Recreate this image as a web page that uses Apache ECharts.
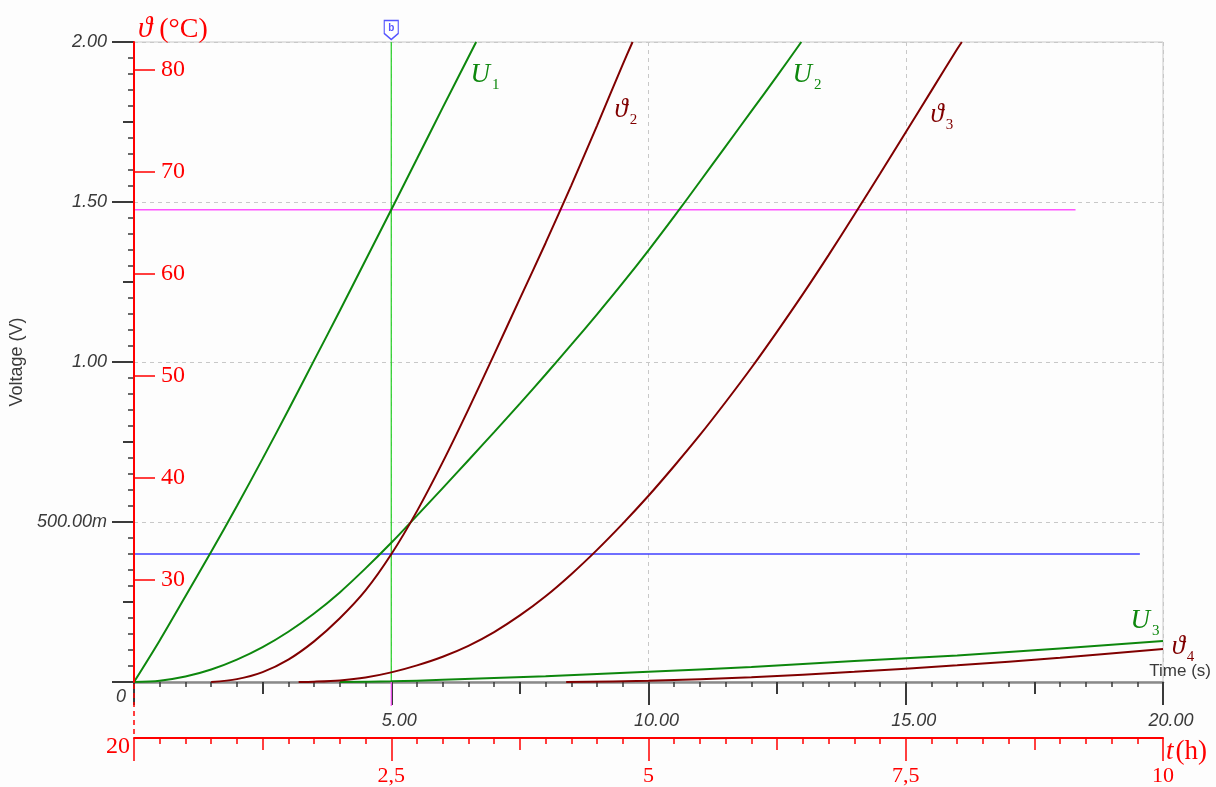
<!DOCTYPE html>
<html>
<head>
<meta charset="utf-8">
<script src="https://cdn.jsdelivr.net/npm/echarts@6/dist/echarts.min.js"></script>
<style>
  html, body { margin: 0; padding: 0; background: #fdfdfd; }
  #chart { width: 1216px; height: 787px; }
</style>
</head>
<body>
<div id="chart"></div>
<script>
// Measured curves: [time (s), voltage (V)]
const u1Points = [[0,0],[0.5,0.13],[1,0.268],[1.5,0.407],[2,0.55],[2.5,0.698],[3,0.85],[3.5,1.005],[4,1.16],[4.5,1.318],[5,1.476],[5.5,1.635],[6,1.795],[6.65,2.0]];
const u2Points = [[0,0],[0.5,0.004],[1,0.017],[1.5,0.039],[2,0.07],[2.5,0.109],[3,0.157],[3.5,0.214],[4,0.28],[4.5,0.355],[5,0.435],[5.5,0.52],[6,0.606],[6.5,0.693],[7,0.781],[7.5,0.87],[8,0.961],[8.5,1.054],[9,1.149],[9.5,1.247],[10,1.349],[10.5,1.455],[11,1.564],[11.5,1.674],[12,1.784],[12.5,1.894],[12.97,2.0]];
const u3Points = [[4,0],[5,0.002],[6,0.007],[8,0.018],[10,0.032],[12,0.047],[14,0.066],[16,0.083],[18,0.105],[20,0.128]];
const theta2Points = [[1.5,0],[2,0.009],[2.5,0.031],[3,0.07],[3.5,0.127],[4,0.199],[4.5,0.286],[5,0.399],[5.5,0.534],[6,0.687],[6.5,0.852],[7,1.024],[7.5,1.198],[8,1.372],[8.5,1.552],[9,1.739],[9.5,1.93],[9.69,2.0]];
const theta3Points = [[3.2,0],[3.5,0.001],[4,0.005],[4.5,0.014],[5,0.03],[5.5,0.052],[6,0.079],[6.5,0.113],[7,0.156],[7.5,0.208],[8,0.268],[8.5,0.337],[9,0.413],[9.5,0.495],[10,0.582],[10.5,0.675],[11,0.772],[11.5,0.875],[12,0.982],[12.5,1.095],[13,1.212],[13.5,1.334],[14,1.46],[14.5,1.588],[15,1.718],[15.5,1.848],[16,1.978],[16.09,2.0]];
const theta4Points = [[8.4,0],[10,0.004],[12,0.015],[14,0.032],[16,0.052],[18,0.076],[20,0.103]];

// Cursors
const cursorTime = 5.0;
const cursorA = [[-0.47,1.476],[18.3,1.476]];
const cursorB = [[-0.47,0.4],[19.55,0.4]];

// Axis scales
const timeMax = 20, hoursMax = 10, voltMax = 2;
const tempMin = 20, tempMax = 82.74;
const tempTicks = [30, 40, 50, 60, 70, 80];
const voltLabels = { 0: '', 0.5: '500.00m', 1: '1.00', 1.5: '1.50', 2: '2.00' };

// Where each curve name sits (axis units) and its pixel nudge
const curveLabelAt = { U1: [6.82, 1.891], U2: [13.08, 1.891], T2: [9.56, 1.782], T3: [15.7, 1.766], U3: [19.65, 0.184], T4: [20, 0.103] };
const curveLabelNudge = { T4: [20, 0] };

const GREEN = '#0d870d', DARKRED = '#800000', RED = '#ff0000', AXIS = '#3a3a3a';
const SANS = '"Liberation Sans", Arial, sans-serif';
const SERIF = '"Liberation Serif", "DejaVu Serif", "Times New Roman", serif';

function nameRich(color) {
  return {
    m: { fontFamily: SERIF, fontStyle: 'italic', fontSize: 27, color: color, verticalAlign: 'top', lineHeight: 31 },
    s: { fontFamily: SERIF, fontSize: 15, color: color, verticalAlign: 'bottom', lineHeight: 31, padding: [0, 0, 0, 2] }
  };
}
function curveName(key, sym, sub, color) {
  return {
    silent: true,
    symbol: 'circle', symbolSize: 0,
    data: [{ coord: curveLabelAt[key] }],
    label: {
      show: true, position: 'inside', offset: curveLabelNudge[key] || [0, 0],
      formatter: '{m|' + sym + '}{s|' + sub + '}', rich: nameRich(color)
    }
  };
}
function curve(name, data, color, key, sym, sub) {
  return {
    name: name, type: 'line', data: data, showSymbol: false, smooth: 0.3,
    clip: false, z: 3,
    lineStyle: { color: color, width: 2 }, itemStyle: { color: color },
    markPoint: curveName(key, sym, sub, color)
  };
}

const chart = echarts.init(document.getElementById('chart'), null, { renderer: 'canvas' });

const option = {
  animation: false,
  backgroundColor: '#fdfdfd',
  grid: { left: 134, top: 42, right: 53, bottom: 104, show: true, borderColor: '#c8c8c8', borderWidth: 1, backgroundColor: 'transparent' },
  xAxis: [
    {
      type: 'value', min: 0, max: timeMax, interval: 5, position: 'bottom', z: 0,
      axisLine: { show: true, onZero: false, lineStyle: { color: '#8a8a8a', width: 2.5 } },
      axisTick: { show: true, length: 23, lineStyle: { color: AXIS, width: 2 } },
      minorTick: { show: true, splitNumber: 10, length: 5, lineStyle: { color: AXIS, width: 1.5 } },
      splitLine: { show: true, lineStyle: { color: '#c8c8c8', type: [4, 4], width: 1 } },
      axisLabel: {
        margin: 30, verticalAlign: 'top',
        formatter: v => v === 0 ? '' : '{a|' + v.toFixed(2) + '}',
        rich: { a: { fontFamily: SANS, fontStyle: 'italic', fontSize: 18, color: AXIS, padding: [0, 0, 0, 16] } }
      },
      name: 'Time (s)', nameLocation: 'end', nameGap: 48,
      nameTextStyle: { align: 'right', verticalAlign: 'bottom', fontFamily: SANS, fontSize: 17, color: AXIS, padding: [0, 0, 2, 0] }
    },
    {
      type: 'value', min: 0, max: timeMax, interval: 2.5, position: 'bottom', offset: 0, z: 0,
      axisLine: { show: false, onZero: false },
      axisTick: { show: true, length: 12, lineStyle: { color: AXIS, width: 2 } },
      axisLabel: { show: false }, splitLine: { show: false }
    },
    {
      type: 'value', min: 0, max: hoursMax, interval: 2.5, position: 'bottom', offset: 56, z: 0,
      axisLine: { show: true, onZero: false, lineStyle: { color: RED, width: 2 } },
      axisTick: { show: true, length: 23, lineStyle: { color: RED, width: 1.5 } },
      minorTick: { show: true, splitNumber: 10, length: 6, lineStyle: { color: RED, width: 1.5 } },
      splitLine: { show: false },
      axisLabel: {
        margin: 27, verticalAlign: 'top', color: RED, fontFamily: SERIF, fontSize: 22,
        formatter: v => v === 0 ? '' : String(v).replace('.', ',')
      },
      name: '{t|t}{h|(h)}', nameLocation: 'end', nameGap: 3,
      nameTextStyle: {
        align: 'left', verticalAlign: 'top', color: RED,
        rich: {
          t: { fontFamily: SERIF, fontStyle: 'italic', fontSize: 27, color: RED, padding: [0, 2, 0, 0] },
          h: { fontFamily: SERIF, fontSize: 27, color: RED }
        }
      }
    },
    {
      type: 'value', min: 0, max: hoursMax, interval: 1.25, position: 'bottom', offset: 56, z: 0,
      axisLine: { show: false, onZero: false },
      axisTick: { show: true, length: 12, lineStyle: { color: RED, width: 1.5 } },
      axisLabel: { show: false }, splitLine: { show: false }
    }
  ],
  yAxis: [
    {
      type: 'value', min: 0, max: voltMax, interval: 0.5, position: 'left', z: 0,
      axisLine: { show: false, onZero: false },
      axisTick: { show: true, length: 22, lineStyle: { color: AXIS, width: 2 } },
      minorTick: { show: true, splitNumber: 10, length: 6, lineStyle: { color: AXIS, width: 1.5 } },
      splitLine: { show: true, lineStyle: { color: '#c8c8c8', type: [4, 4], width: 1 } },
      axisLabel: {
        margin: 27, fontFamily: SANS, fontStyle: 'italic', fontSize: 18, color: AXIS,
        formatter: v => voltLabels[v] !== undefined ? voltLabels[v] : ''
      },
      name: 'Voltage (V)', nameLocation: 'middle', nameGap: 103,
      nameTextStyle: { fontFamily: SANS, fontSize: 18, color: AXIS }
    },
    {
      type: 'value', min: 0, max: voltMax, interval: 0.25, position: 'left', offset: 0, z: 0,
      axisLine: { show: false, onZero: false },
      axisTick: { show: true, length: 11, lineStyle: { color: AXIS, width: 2 } },
      axisLabel: { show: false }, splitLine: { show: false }
    },
    {
      type: 'value', min: tempMin, max: tempMax, position: 'left', offset: 0, z: 6,
      axisLine: { show: true, onZero: false, lineStyle: { color: RED, width: 2 } },
      axisTick: { show: true, inside: true, length: 21, customValues: tempTicks, lineStyle: { color: RED, width: 1.5 } },
      axisLabel: { show: true, inside: true, margin: 27, customValues: tempTicks, color: RED, fontFamily: SERIF, fontSize: 24 },
      splitLine: { show: false },
      name: '{th|ϑ} (°C)', nameLocation: 'end', nameGap: -2,
      nameTextStyle: {
        align: 'left', verticalAlign: 'bottom', color: RED, fontFamily: SERIF, fontSize: 28, padding: [0, 0, 0, 4],
        rich: { th: { fontFamily: SERIF, fontStyle: 'italic', fontSize: 29, color: RED } }
      }
    }
  ],
  series: [
    {
      name: 'cursor a', type: 'line', data: cursorA, showSymbol: false, clip: false, z: 1, silent: true,
      lineStyle: { color: '#ff55ff', width: 1.5 }
    },
    {
      name: 'cursor b', type: 'line', data: cursorB, showSymbol: false, clip: false, z: 1, silent: true,
      lineStyle: { color: '#3f3fff', width: 1.5 }
    },
    {
      name: 'time cursor', type: 'line', data: [[cursorTime, 0], [cursorTime, voltMax]], showSymbol: false, clip: false, z: 2, silent: true,
      lineStyle: { color: '#22d022', width: 1.2 }
    },
    {
      name: 'time cursor foot', type: 'line', data: [[cursorTime, -0.075], [cursorTime, 0]], showSymbol: false, clip: false, z: 5, silent: true,
      lineStyle: { color: '#ff55ff', width: 1.2 }
    },
    curve('U1', u1Points, GREEN, 'U1', 'U', '1'),
    curve('U2', u2Points, GREEN, 'U2', 'U', '2'),
    curve('U3', u3Points, GREEN, 'U3', 'U', '3'),
    curve('ϑ2', theta2Points, DARKRED, 'T2', 'ϑ', '2'),
    curve('ϑ3', theta3Points, DARKRED, 'T3', 'ϑ', '3'),
    curve('ϑ4', theta4Points, DARKRED, 'T4', 'ϑ', '4'),
    {
      name: 'cursor flag', type: 'scatter', data: [[cursorTime, voltMax]], clip: false, z: 7, silent: true,
      symbol: 'path://M0,0H14V13L7,19L0,13Z', symbolSize: [14, 19], symbolOffset: [0, -12],
      itemStyle: { color: '#ffffff', borderColor: '#2a2aff', borderWidth: 1.3 },
      label: { show: true, position: 'inside', formatter: 'b', offset: [0, -2], fontFamily: SANS, fontWeight: 'bold', fontSize: 10, color: '#2a2aff' }
    }
  ]
};

chart.setOption(option);

// Decorations tied to the origin of the axes
const origin = chart.convertToPixel({ xAxisIndex: 0, yAxisIndex: 0 }, [0, 0]);
const hoursLineY = origin[1] + 56;
chart.setOption({
  graphic: [
    {
      type: 'line', z: 10, silent: true,
      shape: { x1: origin[0], y1: origin[1] + 2, x2: origin[0], y2: hoursLineY },
      style: { stroke: RED, lineWidth: 1.5, lineDash: [5, 4] }
    },
    {
      type: 'text', z: 10, silent: true, x: origin[0] - 13, y: origin[1] + 15,
      style: { text: '0', fontFamily: SANS, fontStyle: 'italic', fontSize: 18, fill: AXIS, align: 'center', verticalAlign: 'middle' }
    },
    {
      type: 'text', z: 10, silent: true, x: origin[0] - 4, y: hoursLineY + 9,
      style: { text: '20', fontFamily: SERIF, fontSize: 24, fill: RED, align: 'right', verticalAlign: 'middle' }
    }
  ]
});
</script>
</body>
</html>
